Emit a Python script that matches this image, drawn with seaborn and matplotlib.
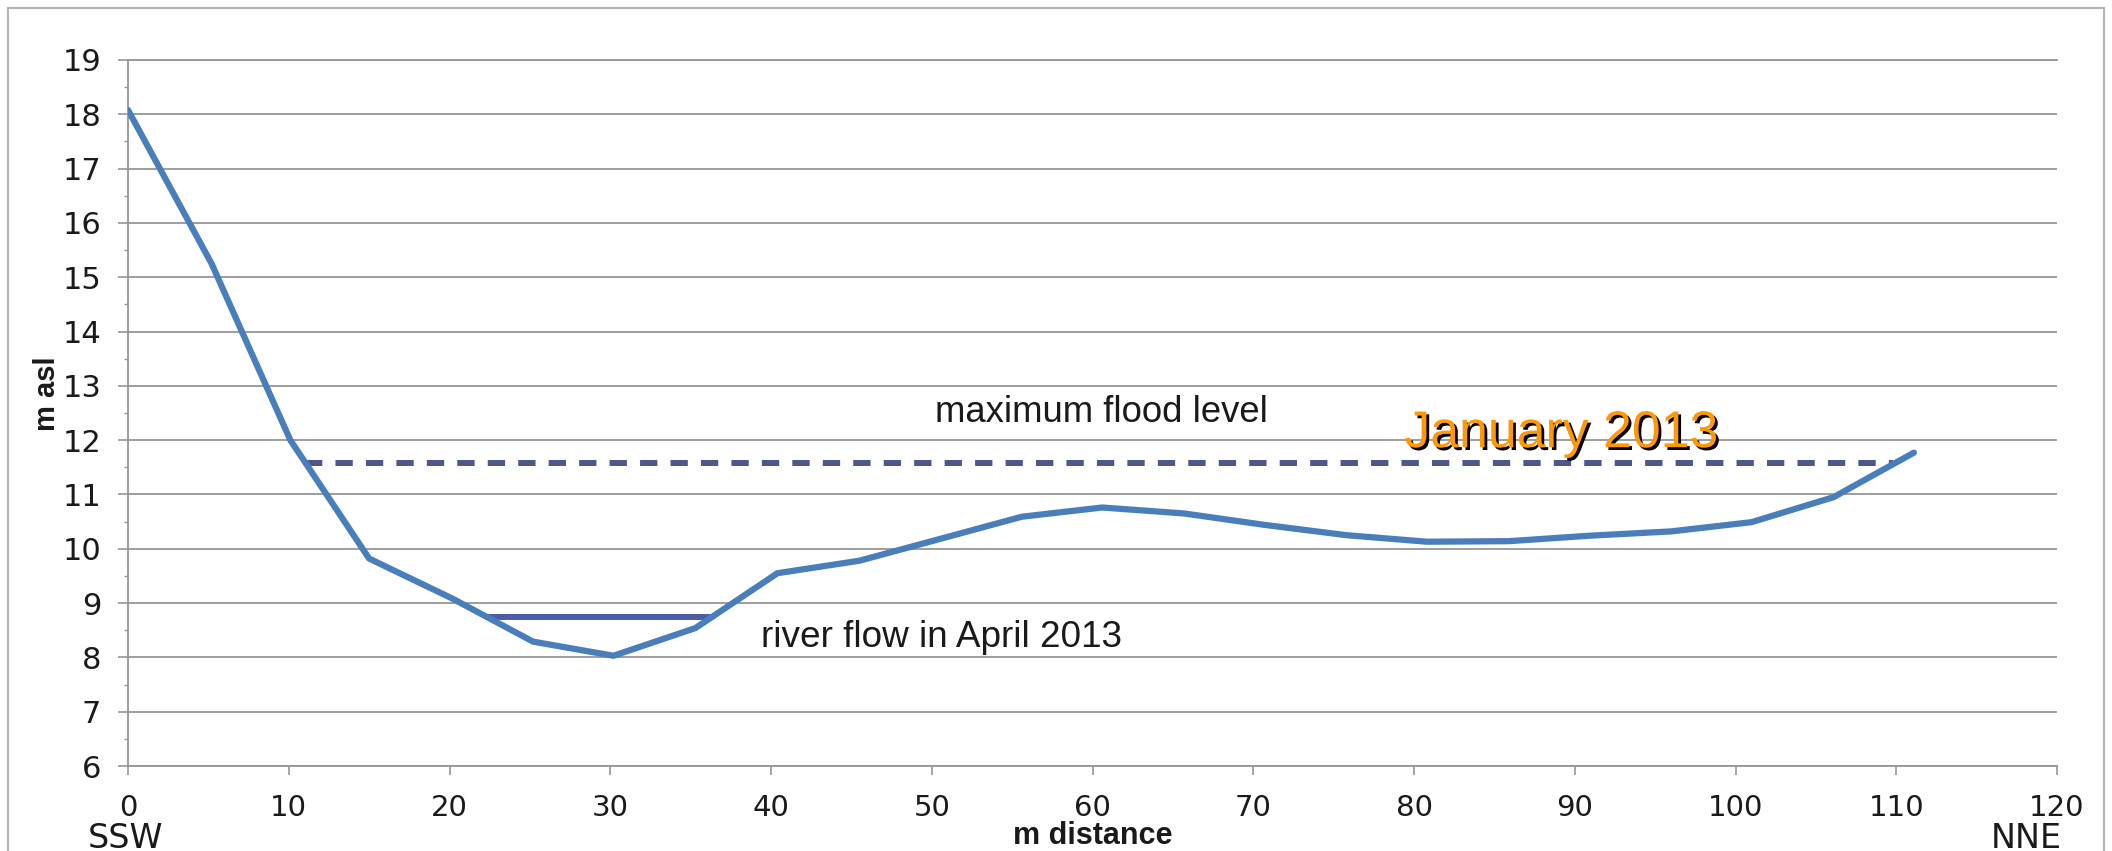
import numpy as np
import pandas as pd
import seaborn as sns
import matplotlib
matplotlib.use("Agg")
import matplotlib.pyplot as plt
import matplotlib.patheffects as pe
from matplotlib.patches import Rectangle
from matplotlib.ticker import MultipleLocator, FixedLocator

# ---- data ----
distance = [0, 5.2, 10.1, 15.0, 20.2, 25.2, 30.2, 35.3, 40.4, 45.5, 50.5, 55.6,
            60.6, 65.7, 70.7, 75.8, 80.8, 85.9, 90.9, 96.0, 101.0, 106.1, 111.1]
elevation = [18.08, 15.25, 12.0, 9.82, 9.08, 8.29, 8.03, 8.54, 9.55, 9.78, 10.18, 10.59,
             10.76, 10.65, 10.44, 10.25, 10.13, 10.14, 10.24, 10.32, 10.49, 10.95, 11.77]
flood_x = [11.0, 109.8]
flood_level = [11.58, 11.58]
river_x = [22.35, 36.3]
river_level = [8.74, 8.74]
x_ticks = list(range(0, 121, 10))
y_ticks = list(range(6, 20))

profile = pd.DataFrame({"distance": distance, "elevation": elevation})

sns.set_theme(style="white")
plt.rcParams["font.family"] = ["Liberation Sans", "DejaVu Sans"]

W, H = 2112, 851
fig = plt.figure(figsize=(W / 100, H / 100), dpi=100)
fig.patch.set_facecolor("white")

# outer chart-area frame
fig.patches.append(Rectangle((8 / W, -0.02), (2104 - 8) / W, (H - 8) / H + 0.02,
                             transform=fig.transFigure, fill=False,
                             edgecolor="#b4b4b4", lw=1.5, zorder=0))

ax = fig.add_axes([128 / W, 1 - 766 / H, (2057 - 128) / W, (766 - 60) / H])
ax.set_facecolor("white")

grid_c = "#969696"
txt_c = "#1a1a1a"
ax.set_xlim(0, 120)
ax.set_ylim(6, 19)
ax.xaxis.set_major_locator(FixedLocator(x_ticks))
ax.yaxis.set_major_locator(FixedLocator(y_ticks))
ax.yaxis.set_minor_locator(MultipleLocator(0.5))
ax.yaxis.grid(True, which="major", color=grid_c, lw=1.3)
ax.set_axisbelow(True)

ax.spines["right"].set_visible(False)
for s in ["left", "bottom", "top"]:
    ax.spines[s].set_color(grid_c)
    ax.spines[s].set_linewidth(1.3)

ax.tick_params(axis="y", which="major", direction="out", length=7.2, width=1.2,
               color=grid_c, pad=12, labelsize=22, labelcolor=txt_c, left=True)
ax.tick_params(axis="y", which="minor", direction="out", length=3, width=1.0,
               color=grid_c, left=True)
ax.tick_params(axis="x", which="major", direction="out", length=6.5, width=1.2,
               color=grid_c, pad=14, labelsize=21, labelcolor=txt_c, bottom=True)
ax.set_xticklabels([str(v) for v in x_ticks], family="DejaVu Sans")
ax.set_yticklabels([str(v) for v in y_ticks], family="DejaVu Sans")

# profile line
sns.lineplot(data=profile, x="distance", y="elevation", ax=ax, color="#4A7EBB",
             lw=4.5, estimator=None, sort=False, zorder=4)
# maximum flood level (dashed)
sns.lineplot(x=flood_x, y=flood_level, ax=ax, color="#4D5889", lw=4.3,
             linestyle=(0, (2.9, 2.2)), dash_capstyle="butt", zorder=3)
# river flow level
sns.lineplot(x=river_x, y=river_level, ax=ax, color="#4C5DA6", lw=4.3, zorder=3)

ax.set_xlabel("")
ax.set_ylabel("")

# annotations
ax.text(50.2, 12.34, "maximum flood level", fontsize=26.3, color=txt_c,
        ha="left", va="baseline")
ax.text(39.4, 8.20, "river flow in April 2013", fontsize=26.6, color=txt_c,
        ha="left", va="baseline")
ax.text(79.4, 11.87, "January 2013", fontsize=37.3, color="#FF9900",
        ha="left", va="baseline",
        path_effects=[pe.SimplePatchShadow(offset=(2, -2), shadow_rgbFace="black", alpha=1.0),
                      pe.Normal()])

# direction labels and axis titles
xt = ax.get_xaxis_transform()
ax.text(-0.15, -(838 - 766) / 706, "SSW", transform=xt, fontsize=24,
        family="DejaVu Sans", color=txt_c, ha="center", va="center", clip_on=False)
ax.text(120.3, -(838 - 766) / 706, "NNE", transform=xt, fontsize=24,
        family="DejaVu Sans", color=txt_c, ha="right", va="center", clip_on=False)
ax.text(60.0, -(836 - 766) / 706, "m distance", transform=xt, fontsize=22,
        fontweight="bold", color=txt_c, ha="center", va="center", clip_on=False)
yt = ax.get_yaxis_transform()
ax.text((47 - 128) / 1929, 12.85, "m asl", transform=yt, fontsize=21,
        fontweight="bold", color=txt_c, ha="center", va="center",
        rotation=90, clip_on=False)

fig.savefig("out.png", dpi=100, facecolor="white")
